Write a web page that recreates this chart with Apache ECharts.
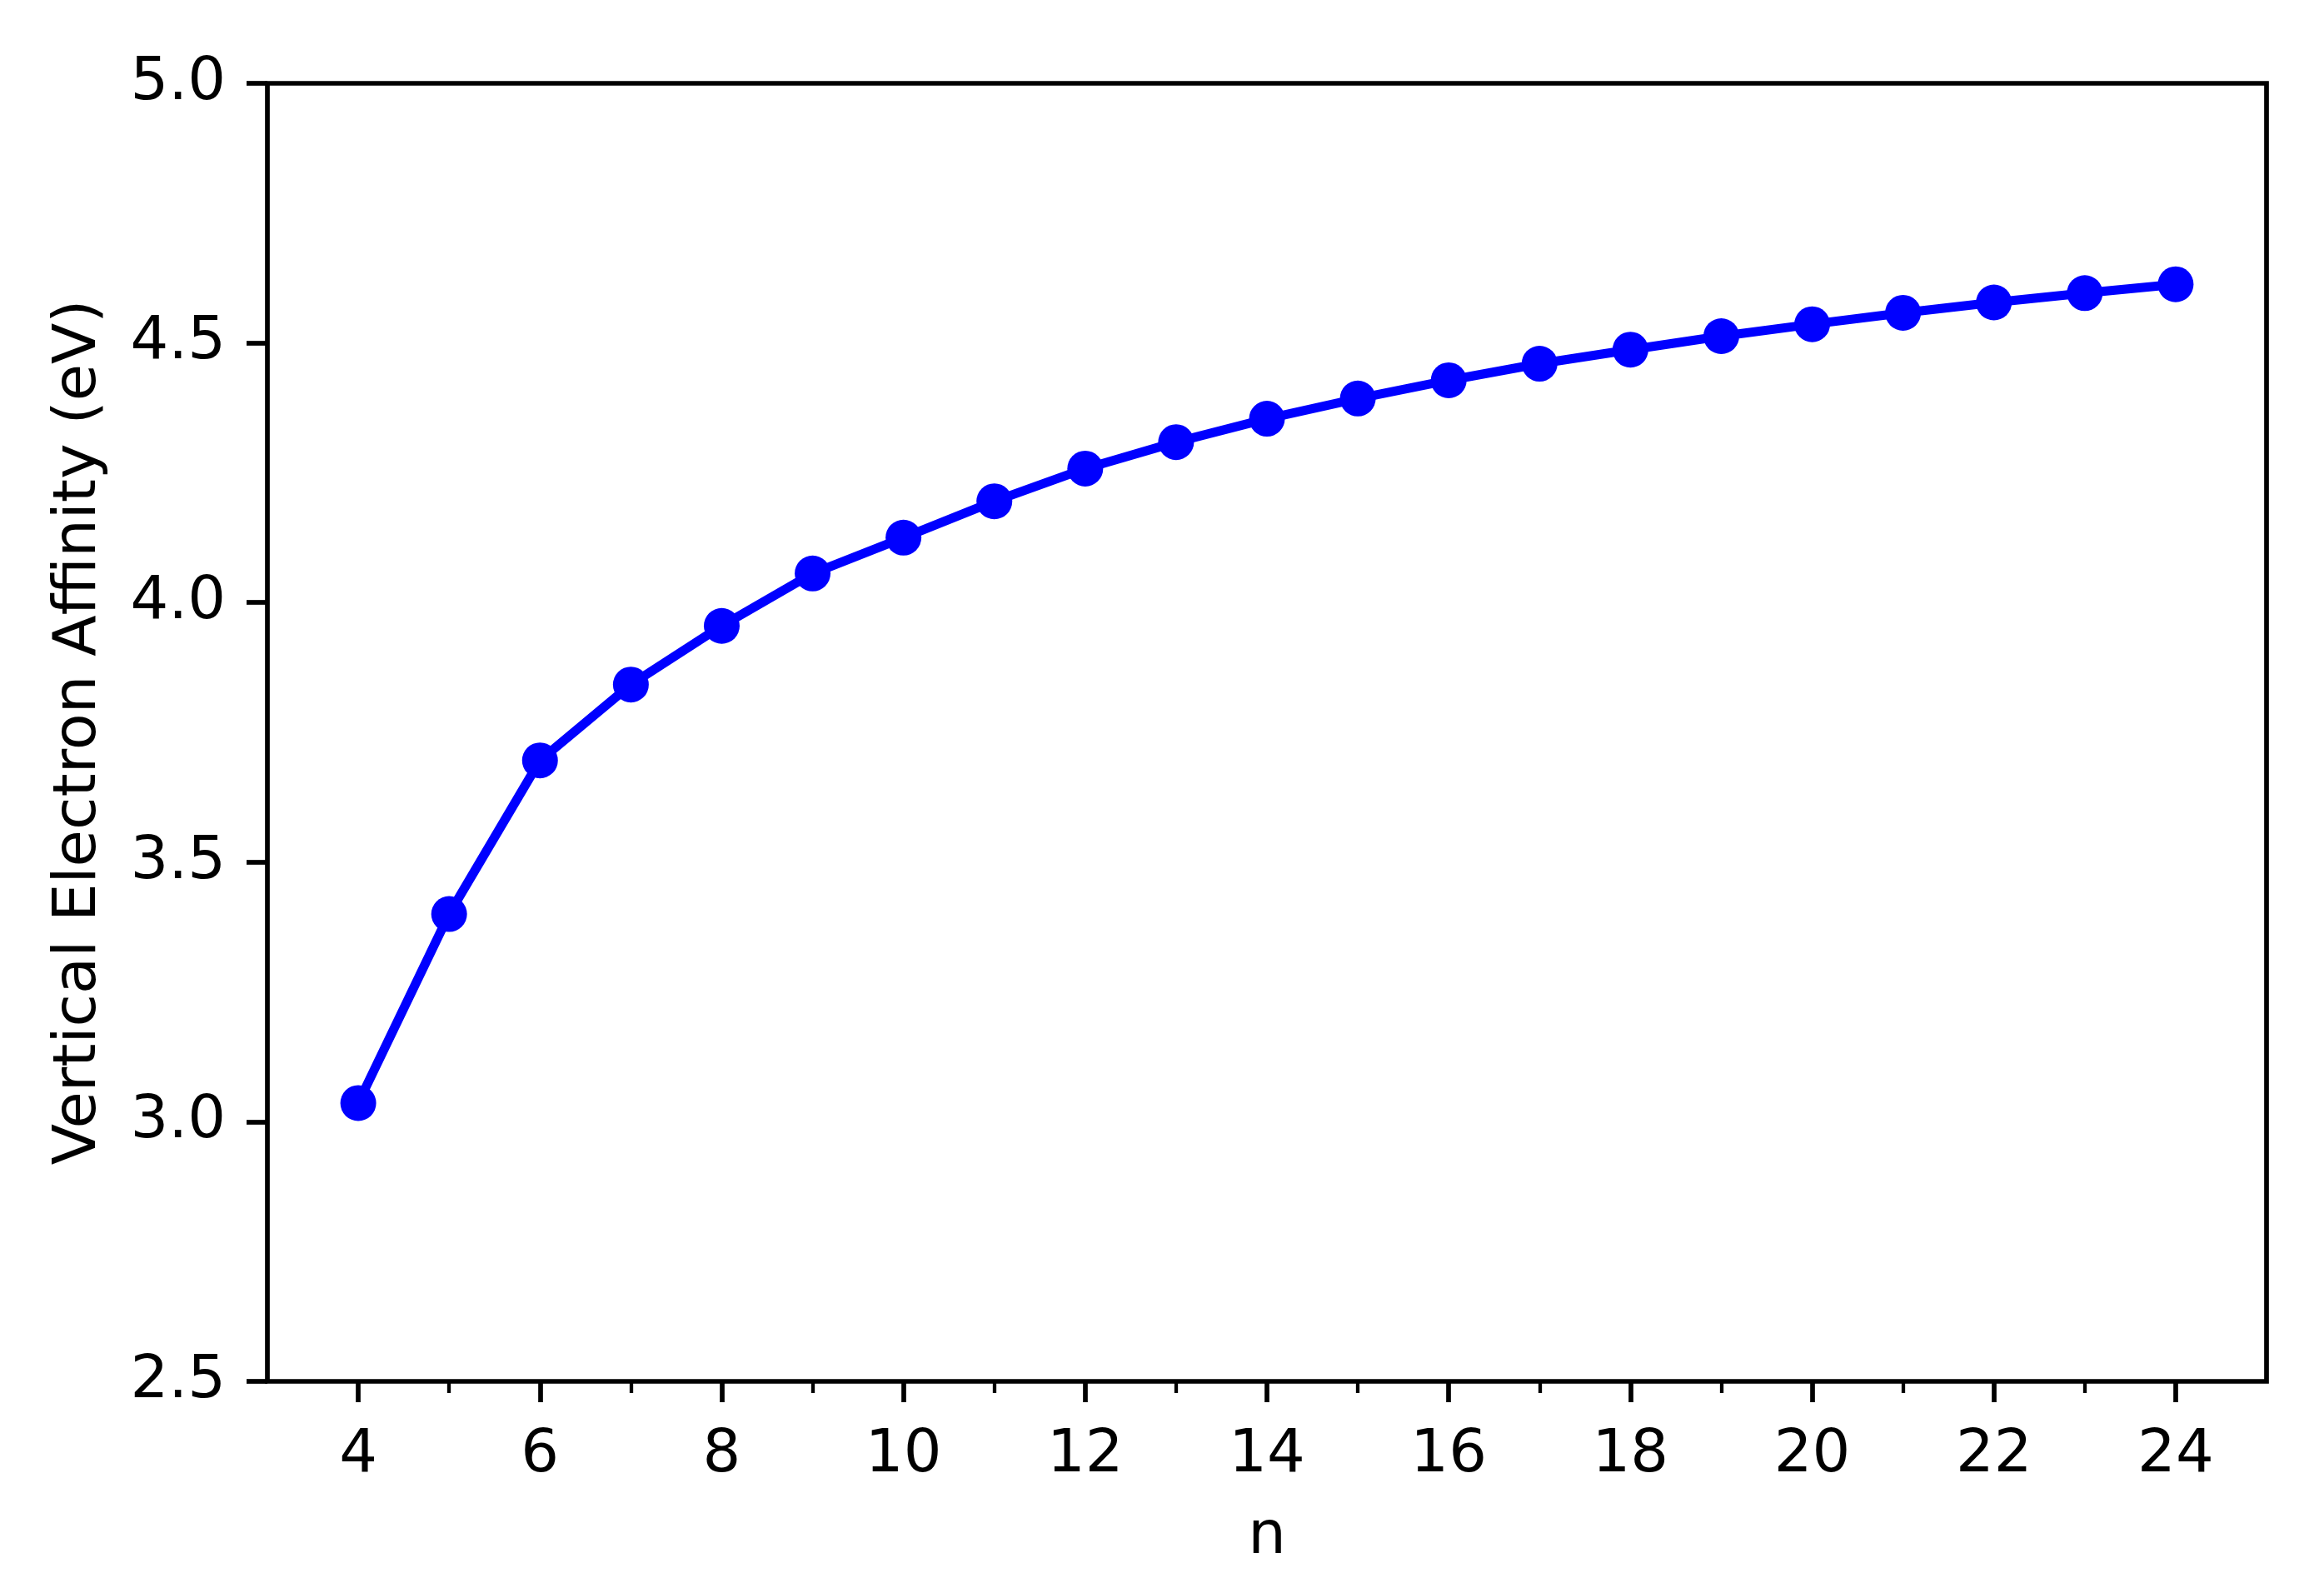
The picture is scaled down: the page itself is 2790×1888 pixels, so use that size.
<!DOCTYPE html>
<html>
<head>
<meta charset="utf-8">
<script src="https://cdn.jsdelivr.net/npm/echarts@6/dist/echarts.min.js"></script>
<style>
html,body{margin:0;padding:0;background:#fff;}
#chart{width:2790px;height:1888px;}
</style>
</head>
<body>
<div id="chart"></div>
<script>
// Data
const nValues = [4,5,6,7,8,9,10,11,12,13,14,15,16,17,18,19,20,21,22,23,24];
const veaValues = [3.036,3.400,3.696,3.842,3.955,4.056,4.125,4.195,4.258,4.309,4.354,4.393,4.428,4.460,4.487,4.513,4.536,4.558,4.578,4.596,4.613];
const xMajorTicks = [4,6,8,10,12,14,16,18,20,22,24];
const xMinorTicks = [5,7,9,11,13,15,17,19,21,23];
const xLabel = 'n';
const yLabel = 'Vertical Electron Affinity (eV)';

const FONT = 'DejaVu Sans';
const FS = 72;

const chart = echarts.init(document.getElementById('chart'), null, {renderer: 'canvas'});
const seriesData = nValues.map((n, i) => [n, veaValues[i]]);

const option = {
  animation: false,
  backgroundColor: '#ffffff',
  grid: {
    left: 321, top: 100, width: 2400, height: 1558,
    show: true, borderColor: '#000', borderWidth: 5.7, backgroundColor: 'transparent'
  },
  xAxis: [
    {
      type: 'value', min: 3, max: 25,
      name: xLabel, nameLocation: 'middle', nameGap: 151,
      nameTextStyle: {fontFamily: FONT, fontSize: FS, color: '#000'},
      axisLine: {show: false},
      splitLine: {show: false},
      axisTick: {show: true, length: 25, inside: false, customValues: xMajorTicks,
        lineStyle: {color: '#000', width: 5.7}},
      axisLabel: {show: true, customValues: xMajorTicks, margin: 53,
        fontFamily: FONT, fontSize: FS, color: '#000'}
    },
    {
      type: 'value', min: 3, max: 25, position: 'bottom',
      axisLine: {show: false},
      splitLine: {show: false},
      axisTick: {show: true, length: 14, customValues: xMinorTicks,
        lineStyle: {color: '#000', width: 4.3}},
      axisLabel: {show: false}
    }
  ],
  yAxis: {
    type: 'value', min: 2.5, max: 5.0, interval: 0.5,
    name: yLabel, nameLocation: 'middle', nameGap: 190, nameRotate: 90,
    nameTextStyle: {fontFamily: FONT, fontSize: FS, color: '#000'},
    axisLine: {show: false},
    splitLine: {show: false},
    axisTick: {show: true, length: 25, lineStyle: {color: '#000', width: 5.7}},
    axisLabel: {show: true, margin: 50, fontFamily: FONT, fontSize: FS, color: '#000',
      formatter: v => v.toFixed(1)}
  },
  series: [{
    type: 'line',
    xAxisIndex: 0,
    data: seriesData,
    color: '#0000ff',
    lineStyle: {color: '#0000ff', width: 11},
    itemStyle: {color: '#0000ff'},
    symbol: 'circle',
    symbolSize: 43,
    showSymbol: true,
    showAllSymbol: true,
    z: 3
  }]
};
chart.setOption(option);
</script>
</body>
</html>
